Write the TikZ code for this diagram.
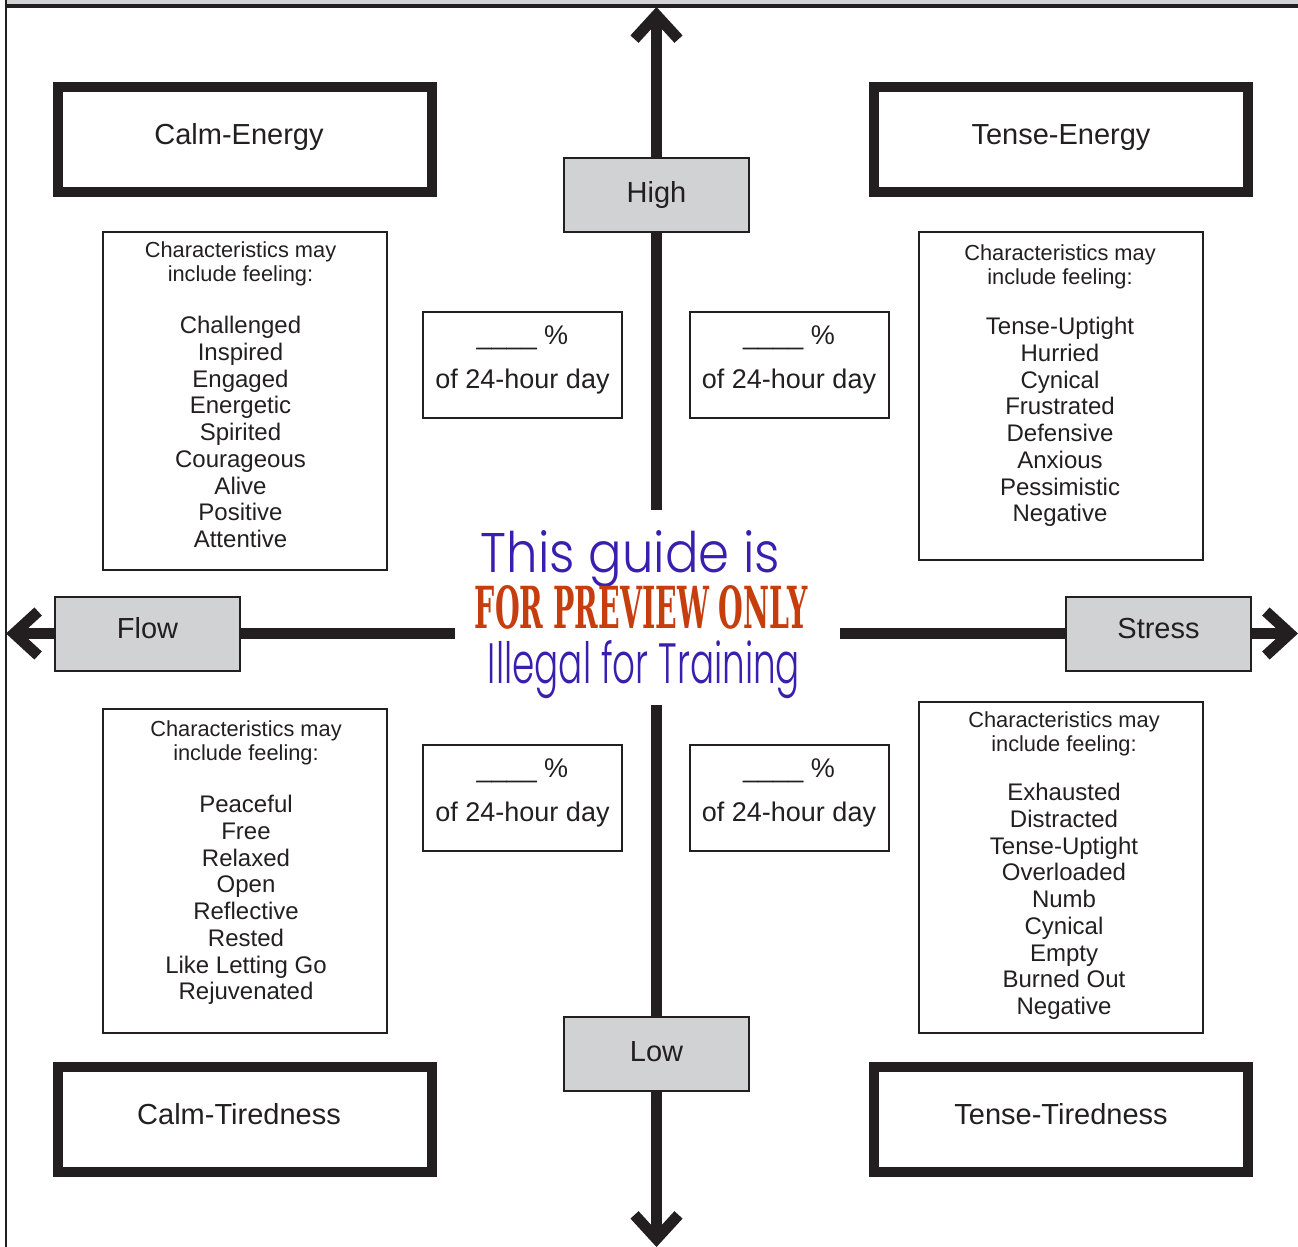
\documentclass[tikz,border=0pt]{standalone}
\usepackage{fontspec}
\setmainfont{Liberation Sans}
\IfFontExistsTF{Poppins Light}{\newfontfamily\wmfont{Poppins Light}}{\newfontfamily\wmfont{Poppins}}
\newfontfamily\wmslab{DejaVu Serif}
\usetikzlibrary{arrows.meta}

\definecolor{ink}{HTML}{231F20}
\definecolor{boxgray}{HTML}{D1D2D4}
\definecolor{wmblue}{HTML}{3A1EB0}
\definecolor{wmred}{HTML}{C73E0E}

\newcommand{\gn}{\node[draw=ink, line width=2pt, fill=boxgray, minimum width=185pt, minimum height=74pt, text height=21pt, font=\fontsize{29}{34}\selectfont]}
\newcommand{\kn}{\node[draw=ink, line width=10pt, minimum width=374pt, minimum height=105pt, text height=21pt, text depth=12pt, font=\fontsize{29}{34}\selectfont]}
\newcommand{\cn}{\node[draw=ink, line width=2pt, minimum width=284pt]}
\newcommand{\pn}{\node[draw=ink, line width=2pt, minimum width=199pt, minimum height=106pt, align=center, text depth=16pt, font=\fontsize{27}{44}\selectfont]}
\newcommand{\hn}{\node[align=center, font=\fontsize{21.8}{24}\selectfont]}
\newcommand{\fn}{\node[align=center, font=\fontsize{24}{26.75}\selectfont]}

\tikzset{
    axis/.style={draw=ink, line width=11pt},
    tip/.style={-{Straight Barb[length=24pt, width=44pt]}},
}

\begin{document}
\begin{tikzpicture}[x=1pt, y=-1pt, color=ink, text=ink]
            \useasboundingbox (0,0) rectangle (1298,1247);

            % page frame
            \fill[boxgray] (7,0) rectangle (1298,4);
            \draw[line width=4pt] (6,6.5) -- (1298,6.5);
            \draw[line width=2.5pt] (6,0) -- (6,1247);

            \coordinate (topend) at (656.5,7);
            \coordinate (botend) at (656.5,1247);
            \coordinate (leftend) at (6,633.5);
            \coordinate (rightend) at (1298,633.5);

            \gn[text depth=5pt] (high) at (656.5,194.5) {High};
            \gn[text depth=5pt] (low) at (656.5,1053.5) {Low};
            \gn[text depth=12pt] (flow) at (147.5,633.5) {Flow};
            \gn[text depth=12pt] (stress) at (1158.5,633.5) {Stress};

            \draw[axis]
                (high) -- (low)
                (flow) -- (stress)
                ;
            \draw[axis, tip] (high) -- (topend);
            \draw[axis, tip] (low) -- (botend);
            \draw[axis, tip] (flow) -- (leftend);
            \draw[axis, tip] (stress) -- (rightend);

            \kn (ce) at (245,139.5) {\hspace*{-12pt}Calm-Energy};
            \kn (te) at (1061,139.5) {Tense-Energy};
            \kn (ct) at (245,1119.5) {\hspace*{-12pt}Calm-Tiredness};
            \kn (tt) at (1061,1119.5) {Tense-Tiredness};

            \cn[minimum height=338pt] (ceb) at (245,401) {};
            \cn[minimum height=328pt] (teb) at (1061,396) {};
            \cn[minimum height=324pt] (ctb) at (245,871) {};
            \cn[minimum height=331pt] (ttb) at (1061,867.5) {};

            \hn (ceh) at (240.5,264) {Characteristics may\\include feeling:};
            \hn (teh) at (1060,267) {Characteristics may\\include feeling:};
            \hn (cth) at (246,743) {Characteristics may\\include feeling:};
            \hn (tth) at (1064,734) {Characteristics may\\include feeling:};

            \fn (cel) at (240.5,432) {Challenged\\Inspired\\Engaged\\Energetic\\Spirited\\Courageous\\Alive\\Positive\\Attentive};
            \fn (tel) at (1060,422) {Tense-Uptight\\Hurried\\Cynical\\Frustrated\\Defensive\\Anxious\\Pessimistic\\Negative};
            \fn (ctl) at (246,900) {Peaceful\\Free\\Relaxed\\Open\\Reflective\\Rested\\Like Letting Go\\Rejuvenated};
            \fn (ttl) at (1064,901.5) {Exhausted\\Distracted\\Tense-Uptight\\Overloaded\\Numb\\Cynical\\Empty\\Burned Out\\Negative};

            \pn (cep) at (522.5,365) {\_\_\_\_ \%\\of 24-hour day};
            \pn (tep) at (789,365) {\_\_\_\_ \%\\of 24-hour day};
            \pn (ctp) at (522.5,798) {\_\_\_\_ \%\\of 24-hour day};
            \pn (ttp) at (789,798) {\_\_\_\_ \%\\of 24-hour day};

            % watermark
            \node[fill=white, minimum width=385pt, minimum height=195pt, inner sep=0pt] (wm) at (647.5,607.5) {};
            \node[anchor=base, inner sep=0pt, text=wmblue] (wm1) at (630.5,572) {\resizebox{299pt}{42pt}{\wmfont This guide is}};
            \node[anchor=base, inner sep=0pt, text=wmred] (wm2) at (641.5,628) {\resizebox{333pt}{43pt}{\wmslab\bfseries FOR PREVIEW ONLY}};
            \node[anchor=base, inner sep=0pt, text=wmblue] (wm3) at (644,683) {\resizebox{312pt}{43pt}{\wmfont Illegal for Training}};
        \end{tikzpicture}
\end{document}
